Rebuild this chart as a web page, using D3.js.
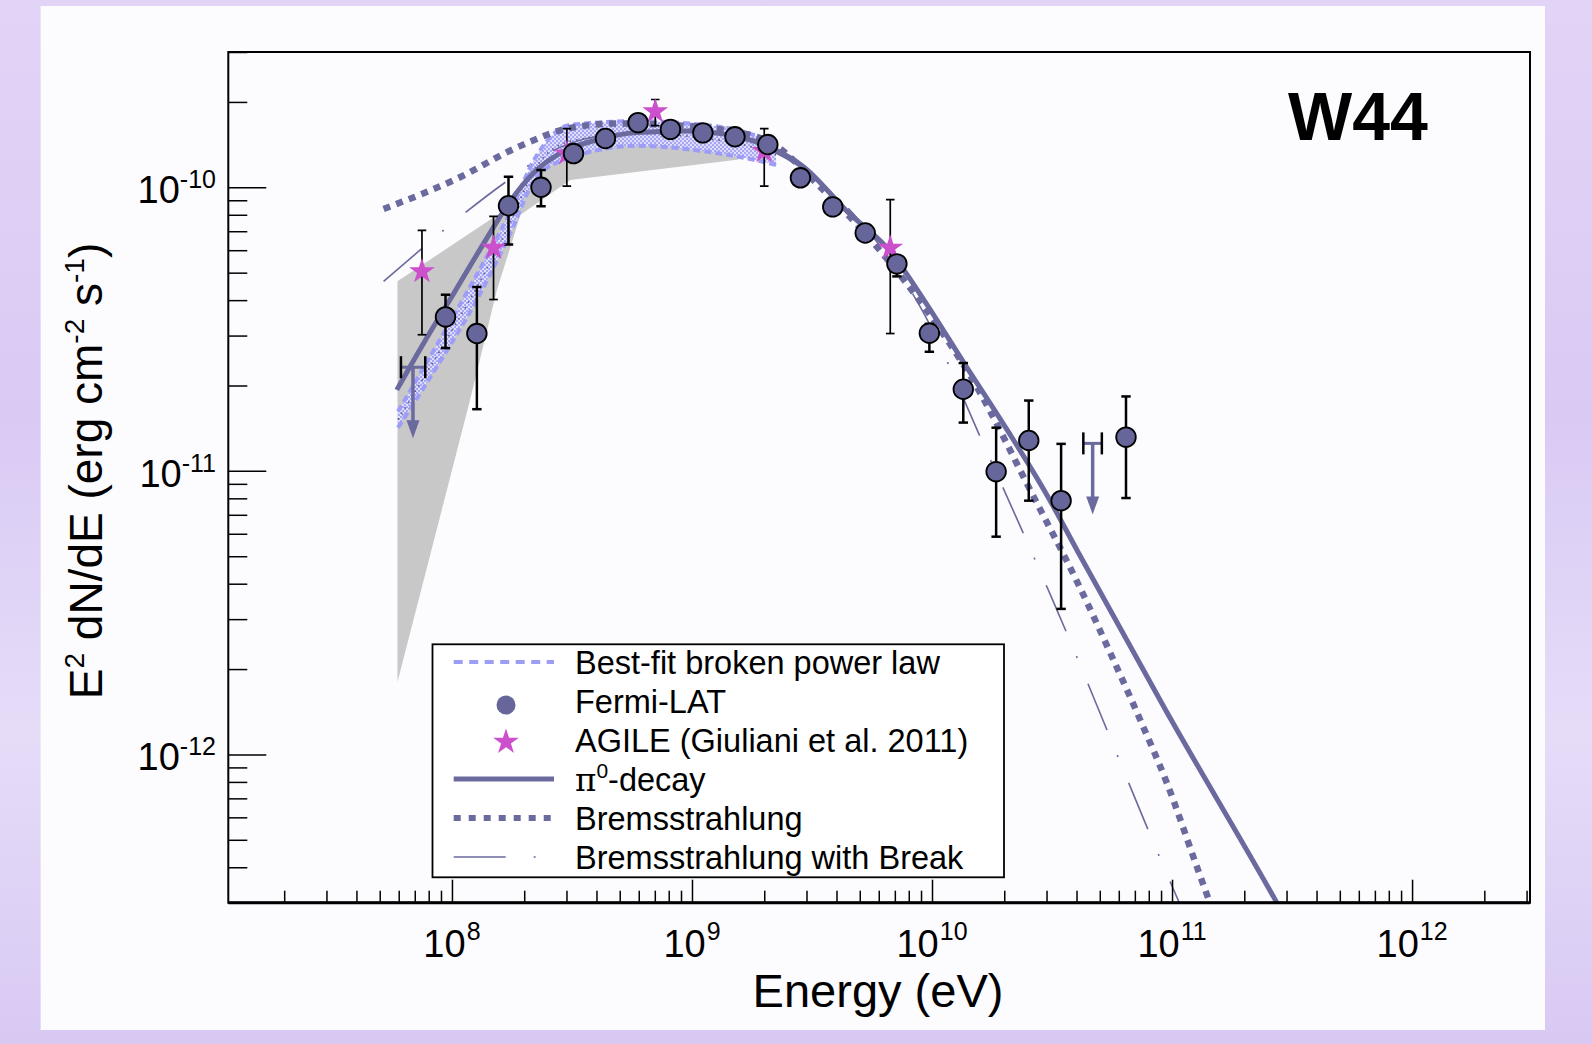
<!DOCTYPE html>
<html><head><meta charset="utf-8">
<script src="https://cdn.jsdelivr.net/npm/d3@7"></script>
<style>
html,body{margin:0;padding:0;background:#dccff4;overflow:hidden;}
svg{display:block;}
text{font-family:"Liberation Sans",Arial,Helvetica,sans-serif;fill:#000;}
</style></head><body>
<svg id="chart" width="1592" height="1044"></svg>
<script>
// ---------------- data ----------------
const xDomain = [1.17e7, 3.1e12];
const yDomain = [3e-13, 3e-10];
const xTickExps = [8, 9, 10, 11, 12];
const yTickExps = [-10, -11, -12];

// Fermi-LAT points
const fermiE  = [9.4e7,1.27e8,1.72e8,2.35e8,3.21e8,4.36e8,5.96e8,8.13e8,1.11e9,1.51e9,2.07e9,2.83e9,3.86e9,5.27e9,7.14e9,9.75e9,1.35e10,1.85e10,2.53e10,3.45e10,6.43e10];
const fermiF  = [3.49e-11,3.05e-11,8.61e-11,1.0e-10,1.315e-10,1.486e-10,1.69e-10,1.60e-10,1.556e-10,1.507e-10,1.415e-10,1.08e-10,8.53e-11,6.9e-11,5.37e-11,3.06e-11,1.94e-11,9.94e-12,1.28e-11,7.85e-12,1.315e-11];
const fermiHi = [4.18e-11,4.45e-11,1.09e-10,1.15e-10,1.36e-10,1.53e-10,1.74e-10,1.65e-10,1.60e-10,1.55e-10,1.46e-10,1.12e-10,8.8e-11,7.1e-11,5.6e-11,3.3e-11,2.4e-11,1.42e-11,1.77e-11,1.245e-11,1.83e-11];
const fermiLo = [2.71e-11,1.65e-11,6.28e-11,8.57e-11,1.27e-10,1.44e-10,1.64e-10,1.55e-10,1.51e-10,1.46e-10,1.37e-10,1.04e-10,8.26e-11,6.7e-11,4.85e-11,2.63e-11,1.48e-11,5.86e-12,7.85e-12,3.26e-12,8.02e-12];

// AGILE points
const agileE  = [7.5e7,1.49e8,3.01e8,7.03e8,2.0e9,6.7e9];
const agileF  = [5.05e-11,6.11e-11,1.315e-10,1.85e-10,1.34e-10,6.11e-11];
const agileHi = [7.05e-11,7.9e-11,1.61e-10,2.04e-10,1.61e-10,9.05e-11];
const agileLo = [3.02e-11,4.02e-11,1.01e-10,1.65e-10,1.01e-10,3.05e-11];

// Fermi-LAT upper limits
const ulE   = [6.88e7,4.67e10];
const ulF   = [2.32e-11,1.25e-11];
const ulElo = [6.13e7,4.27e10];
const ulEhi = [7.74e7,5.1e10];

// pi0-decay model
const pionE = [5.89e7,7.62e7,1.02e8,1.36e8,1.75e8,2.19e8,2.83e8,4.02e8,5.9e8,9.53e8,1.54e9,2.12e9,2.92e9,4.43e9,6.70e9,9.23e9,1.36e10,2.05e10,3.01e10,4.02e10,9.25e10,2.74e11,3.16e11];
const pionF = [1.93e-11,2.82e-11,4.24e-11,6.37e-11,8.93e-11,1.125e-10,1.32e-10,1.47e-10,1.56e-10,1.58e-10,1.51e-10,1.38e-10,1.18e-10,8.22e-11,5.94e-11,4.02e-11,2.40e-11,1.40e-11,8.22e-12,5.25e-12,1.47e-12,2.99e-13,2.41e-13];

// Bremsstrahlung model
const bremsE = [5.19e7,1.02e8,1.93e8,3.11e8,5.02e8,8.13e8,1.31e9,2.12e9,3.43e9,5.62e9,9.89e9,1.45e10,2.65e10,4.02e10,5.53e10,7.38e10,9.53e10,1.27e11,1.58e11];
const bremsF = [8.39e-11,1.06e-10,1.40e-10,1.62e-10,1.68e-10,1.66e-10,1.60e-10,1.44e-10,1.0e-10,6.46e-11,3.51e-11,2.15e-11,8.11e-12,4.07e-12,2.28e-12,1.32e-12,7.91e-13,4.01e-13,2.40e-13];

// Bremsstrahlung with break model
const bbE = [5.19e7,1.69e8,2.51e8,3.98e8,7.08e8,1.26e9,2.0e9,3.16e9,5.01e9,8.91e9,1.69e10,3.16e10,9.68e10,1.26e11];
const bbF = [4.66e-11,1.05e-10,1.32e-10,1.51e-10,1.58e-10,1.55e-10,1.38e-10,1.10e-10,7.59e-11,3.80e-11,1.17e-11,3.55e-12,3.66e-13,2.19e-13];

// Best-fit broken power law band
const bandE  = [5.96e7,9.4e7,1.27e8,1.72e8,2.26e8,3.11e8,5.9e8,1.12e9,1.81e9,2.24e9];
const bandHi = [1.62e-11,3.14e-11,4.93e-11,7.96e-11,1.30e-10,1.66e-10,1.71e-10,1.66e-10,1.53e-10,1.42e-10];
const bandLo = [1.42e-11,2.61e-11,4.01e-11,6.67e-11,1.09e-10,1.27e-10,1.40e-10,1.34e-10,1.25e-10,1.20e-10];

// Grey uncertainty region
const greyUpE = [5.93e7,1.75e8,2.57e8,4.29e8,1.54e9,2.12e9];
const greyUpF = [4.66e-11,8.57e-11,1.40e-10,1.66e-10,1.64e-10,1.40e-10];
const greyLoE = [5.93e7,1.19e8,1.54e8,1.93e8,3.11e8,1.54e9,2.12e9];
const greyLoF = [1.80e-12,1.78e-11,4.35e-11,8.0e-11,1.06e-10,1.25e-10,1.40e-10];

const legendLabels = ["Best-fit broken power law","Fermi-LAT","AGILE (Giuliani et al. 2011)","π","Bremsstrahlung","Bremsstrahlung with Break"];
const legendTypes  = ["bestfit","circle","star","pion","brems","bbreak"];

// ---------------- drawing ----------------
const svg = d3.select("#chart");
const P = {left:228.3, right:1530, top:52, bottom:902.7};
const x = d3.scaleLog().domain(xDomain).range([P.left, P.right]);
const y = d3.scaleLog().domain(yDomain).range([P.bottom, P.top]);

const COL = "#6a6a9e", CIRC = "#66669a", MAG = "#cc4fcc", LBLUE = "#9d9df7";

const defs = svg.append("defs");
const bg = defs.append("linearGradient").attr("id","bg").attr("x1",0).attr("x2",0).attr("y1",0).attr("y2",1);
bg.append("stop").attr("offset","0").attr("stop-color","#e2d4f6");
bg.append("stop").attr("offset","0.4").attr("stop-color","#d9caf4");
bg.append("stop").attr("offset","0.7").attr("stop-color","#e6dcf8");
bg.append("stop").attr("offset","1").attr("stop-color","#d8c9f3");
const pat = defs.append("pattern").attr("id","chk").attr("width",4).attr("height",4).attr("patternUnits","userSpaceOnUse");
pat.append("rect").attr("width",4).attr("height",4).attr("fill","#dedefc");
pat.append("rect").attr("width",2).attr("height",2).attr("fill","#a6a6f3");
pat.append("rect").attr("x",2).attr("y",2).attr("width",2).attr("height",2).attr("fill","#a6a6f3");
defs.append("clipPath").attr("id","clip").append("rect")
  .attr("x",P.left).attr("y",P.top).attr("width",P.right-P.left).attr("height",P.bottom-P.top);

svg.append("rect").attr("width",1592).attr("height",1044).attr("fill","url(#bg)");
svg.append("rect").attr("x",40.6).attr("y",6).attr("width",1504.4).attr("height",1024).attr("fill","#fcfbfe");

const plot = svg.append("g").attr("clip-path","url(#clip)");

// grey region
const greyPts = greyUpE.map((e,i)=>[x(e),y(greyUpF[i])])
  .concat(greyLoE.map((e,i)=>[x(e),y(greyLoF[i])]).reverse());
plot.append("path").attr("d", d3.line()(greyPts)+"Z").attr("fill","#c8c8c8");

// best-fit band
const bandIdx = d3.range(bandE.length);
plot.append("path")
  .attr("d", d3.area().curve(d3.curveMonotoneX)
    .x(i=>x(bandE[i])).y0(i=>y(bandLo[i])).y1(i=>y(bandHi[i]))(bandIdx))
  .attr("fill","url(#chk)");
[bandHi, bandLo].forEach(arr=>{
  plot.append("path")
    .attr("d", d3.line().curve(d3.curveMonotoneX).x(i=>x(bandE[i])).y(i=>y(arr[i]))(bandIdx))
    .attr("fill","none").attr("stroke",LBLUE).attr("stroke-width",4).attr("stroke-dasharray","7,4");
});
plot.append("path")
  .attr("d", d3.line().curve(d3.curveMonotoneX).x(i=>x(bandE[i])).y(i=>y(Math.sqrt(bandHi[i]*bandLo[i])))(bandIdx))
  .attr("fill","none").attr("stroke","#5a5a80").attr("stroke-width",1.6).attr("stroke-dasharray","1.5,5");

// model lines
function modelLine(E,F,w,dash){
  const p = plot.append("path")
    .attr("d", d3.line().curve(d3.curveMonotoneX).x(i=>x(E[i])).y(i=>y(F[i]))(d3.range(E.length)))
    .attr("fill","none").attr("stroke",COL).attr("stroke-width",w);
  if(dash) p.attr("stroke-dasharray",dash);
  return p;
}
modelLine(bbE,bbF,1.6,"50,27,2,28");
modelLine(bremsE,bremsF,6.5,"7,6.5");
modelLine(pionE,pionF,5,null);

// error bars
function errBars(E,Lo,Hi,half,w){
  const g = plot.append("g").attr("stroke","#000").attr("stroke-width",w);
  E.forEach((e,i)=>{
    const cx = x(e), y1 = y(Hi[i]), y2 = y(Lo[i]);
    g.append("line").attr("x1",cx).attr("x2",cx).attr("y1",y1).attr("y2",y2);
    g.append("line").attr("x1",cx-half).attr("x2",cx+half).attr("y1",y1).attr("y2",y1);
    g.append("line").attr("x1",cx-half).attr("x2",cx+half).attr("y1",y2).attr("y2",y2);
  });
}
errBars(agileE,agileLo,agileHi,4.3,1.7);
errBars(fermiE,fermiLo,fermiHi,4.7,2.5);

// stars
const star = d3.symbol().type(d3.symbolStar).size(205);
plot.selectAll("path.star").data(agileE).enter().append("path").attr("class","star")
  .attr("d",star()).attr("transform",(e,i)=>`translate(${x(e)},${y(agileF[i])})`)
  .attr("fill",MAG);

// circles
plot.selectAll("circle.fermi").data(fermiE).enter().append("circle").attr("class","fermi")
  .attr("cx",e=>x(e)).attr("cy",(e,i)=>y(fermiF[i])).attr("r",9.8)
  .attr("fill",CIRC).attr("stroke","#000").attr("stroke-width",1.8);

// upper limits
ulE.forEach((e,i)=>{
  const cx = x(e), cy = y(ulF[i]), xl = x(ulElo[i]), xr = x(ulEhi[i]);
  plot.append("line").attr("x1",xl).attr("x2",xr).attr("y1",cy).attr("y2",cy).attr("stroke",COL).attr("stroke-width",3);
  [xl,xr].forEach(xx=>plot.append("line").attr("x1",xx).attr("x2",xx).attr("y1",cy-11).attr("y2",cy+11)
    .attr("stroke","#000").attr("stroke-width",2.5));
  plot.append("line").attr("x1",cx).attr("x2",cx).attr("y1",cy).attr("y2",cy+56).attr("stroke",COL).attr("stroke-width",3.5);
  plot.append("path").attr("d",`M${cx-6.5},${cy+53}L${cx+6.5},${cy+53}L${cx},${cy+71}Z`).attr("fill",COL);
});

// axes
const isMajor = v => Math.abs(Math.log10(v)-Math.round(Math.log10(v)))<1e-6;
const xt = x.ticks(), yt = y.ticks();
function styleAxis(g){ g.select(".domain").remove(); g.selectAll("line").attr("stroke","#000").attr("stroke-width",1.5); }
svg.append("g").attr("transform",`translate(0,${P.bottom})`)
  .call(d3.axisTop(x).tickValues(xt.filter(v=>!isMajor(v))).tickSize(12).tickFormat("")).call(styleAxis);
svg.append("g").attr("transform",`translate(0,${P.bottom})`)
  .call(d3.axisTop(x).tickValues(xTickExps.map(p=>Math.pow(10,p))).tickSize(23).tickFormat("")).call(styleAxis);
svg.append("g").attr("transform",`translate(${P.left},0)`)
  .call(d3.axisRight(y).tickValues(yt.filter(v=>!isMajor(v))).tickSize(19).tickFormat("")).call(styleAxis);
svg.append("g").attr("transform",`translate(${P.left},0)`)
  .call(d3.axisRight(y).tickValues(yTickExps.map(p=>Math.pow(10,p))).tickSize(38).tickFormat("")).call(styleAxis);

// tick labels
xTickExps.forEach(p=>{
  const t = svg.append("text").attr("x",x(Math.pow(10,p))).attr("y",957).attr("text-anchor","middle").attr("font-size",38);
  t.append("tspan").text("10");
  t.append("tspan").attr("dy",-17).attr("dx",1).attr("font-size",25).text(p);
});
yTickExps.forEach(p=>{
  const t = svg.append("text").attr("x",216).attr("y",y(Math.pow(10,p))+15.7).attr("text-anchor","end").attr("font-size",38);
  t.append("tspan").text("10");
  t.append("tspan").attr("dy",-15).attr("font-size",25).text(p);
});

// frame
svg.append("rect").attr("x",P.left).attr("y",P.top).attr("width",P.right-P.left).attr("height",P.bottom-P.top)
  .attr("fill","none").attr("stroke","#000").attr("stroke-width",2);
svg.append("line").attr("x1",P.left).attr("x2",P.right).attr("y1",P.bottom).attr("y2",P.bottom).attr("stroke","#000").attr("stroke-width",3);

// axis titles
svg.append("text").attr("x",878).attr("y",1007).attr("text-anchor","middle").attr("font-size",47).text("Energy (eV)");
const yl = svg.append("text").attr("transform","translate(101.7,471) rotate(-90)").attr("text-anchor","middle").attr("font-size",46);
yl.append("tspan").text("E");
yl.append("tspan").attr("dy",-18).attr("font-size",28).text("2");
yl.append("tspan").attr("dy",18).text(" dN/dE (erg cm");
yl.append("tspan").attr("dy",-18).attr("font-size",28).text("-2");
yl.append("tspan").attr("dy",18).text(" s");
yl.append("tspan").attr("dy",-18).attr("font-size",28).text("-1");
yl.append("tspan").attr("dy",18).text(")");

// W44
svg.append("text").attr("x",1358).attr("y",140).attr("text-anchor","middle").attr("font-size",68).attr("font-weight","bold").text("W44");

// legend
const L = {x:432.5, y:644.3, w:571.5, h:233};
svg.append("rect").attr("x",L.x).attr("y",L.y).attr("width",L.w).attr("height",L.h)
  .attr("fill","#ffffff").attr("stroke","#000").attr("stroke-width",1.8);
legendLabels.forEach((lab,i)=>{
  const cy = 662 + 39*i;
  const type = legendTypes[i];
  const x1 = 453.7, x2 = 554, xc = 506;
  if(type==="bestfit"){
    svg.append("line").attr("x1",x1).attr("x2",x2).attr("y1",cy).attr("y2",cy).attr("stroke",LBLUE).attr("stroke-width",4).attr("stroke-dasharray","9,6.5");
  } else if(type==="circle"){
    svg.append("circle").attr("cx",xc).attr("cy",cy+4).attr("r",9.5).attr("fill",CIRC);
  } else if(type==="star"){
    svg.append("path").attr("d",star()).attr("transform",`translate(${xc},${cy+2})`).attr("fill",MAG);
  } else if(type==="pion"){
    svg.append("line").attr("x1",x1).attr("x2",x2).attr("y1",cy).attr("y2",cy).attr("stroke",COL).attr("stroke-width",5);
  } else if(type==="brems"){
    svg.append("line").attr("x1",x1).attr("x2",x2).attr("y1",cy).attr("y2",cy).attr("stroke",COL).attr("stroke-width",6).attr("stroke-dasharray","7,8");
  } else {
    svg.append("line").attr("x1",x1).attr("x2",x2).attr("y1",cy).attr("y2",cy).attr("stroke",COL).attr("stroke-width",1.6).attr("stroke-dasharray","52,28,2,100");
  }
  const t = svg.append("text").attr("x",575).attr("y",cy+11.5).attr("font-size",32.5);
  if(type==="pion"){
    t.append("tspan").attr("font-family","'DejaVu Serif',serif").text("π");
    t.append("tspan").attr("dy",-13).attr("font-size",21).text("0");
    t.append("tspan").attr("dy",13).text("-decay");
  } else t.text(lab);
});
</script></body></html>
